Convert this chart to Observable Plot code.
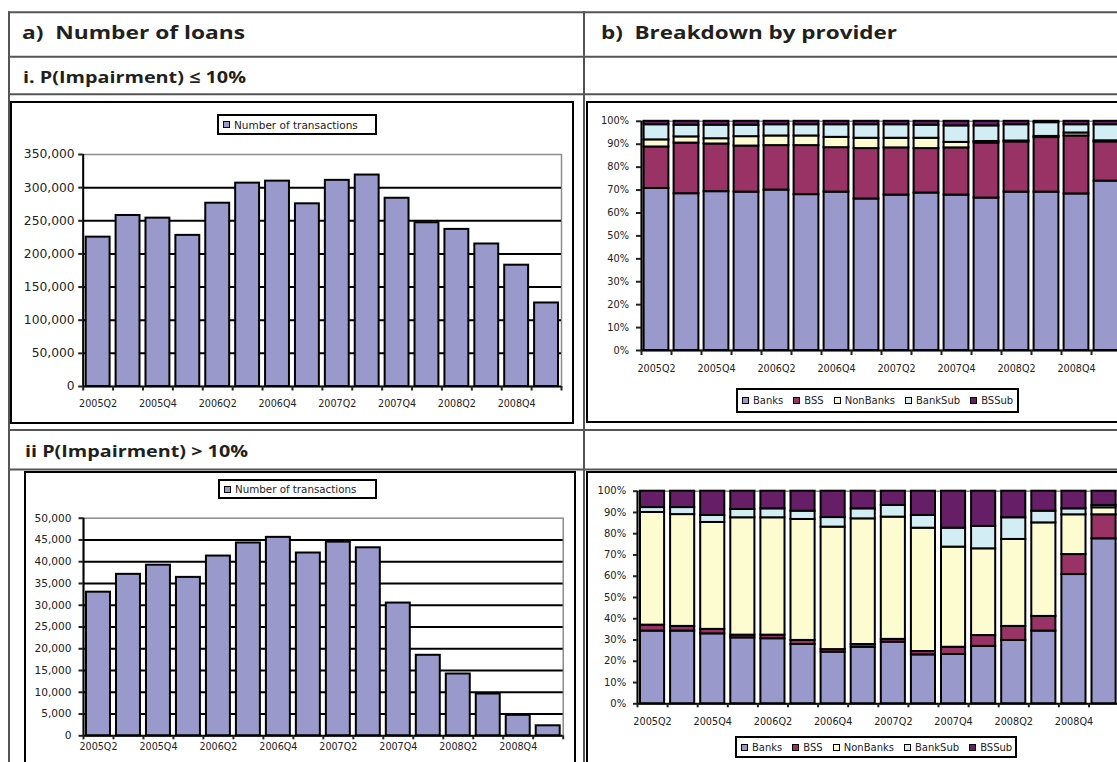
<!DOCTYPE html>
<html>
<head>
<meta charset="utf-8">
<script src="https://cdn.jsdelivr.net/npm/d3@7"></script>
<script src="https://cdn.jsdelivr.net/npm/@observablehq/plot@0.6"></script>
<style>
html, body { margin: 0; padding: 0; background: #fff; }
#page { position: relative; width: 1117px; height: 762px; overflow: hidden; background: #fff; }
.frame { position: absolute; border: 2px solid #000; box-sizing: border-box; background: #fff; overflow: hidden; }
.frame svg { position: absolute; left: 0; top: 0; max-width: none !important; }
.legend { position: absolute; box-sizing: border-box; border: 2px solid #000; background: #fff;
  font-family: "DejaVu Sans", sans-serif; color: #222; white-space: nowrap; display: flex; align-items: center; }
.legend .item { display: inline-flex; align-items: center; }
.legend .sw { display: inline-block; box-sizing: border-box; width: 7px; height: 7px; border: 1.5px solid #000; margin-right: 4px; }
</style>
</head>
<body>
<div id="page"></div>
<script>
// ---------------- data ----------------
const quarters = ["2005Q2","2005Q3","2005Q4","2006Q1","2006Q2","2006Q3","2006Q4","2007Q1",
                  "2007Q2","2007Q3","2007Q4","2008Q1","2008Q2","2008Q3","2008Q4","2009Q1"];

// a) Number of loans (number of transactions)
const loansLowPD  = [225300, 258000, 254000, 228000, 276500, 306800, 309800, 275600,
                     311000, 319000, 284000, 247000, 237000, 215000, 183000, 126000];
const loansHighPD = [33000, 37100, 39200, 36400, 41300, 44300, 45600, 42000,
                     44500, 43200, 30500, 18500, 14200, 9600, 4700, 2300];

// b) Breakdown by provider (shares, %)
const providers = ["Banks", "BSS", "NonBanks", "BankSub", "BSSub"];
const providerColors = ["#9999cc", "#993366", "#fdfbd0", "#d3edf5", "#661f66"];
const barColor = "#9999cc";

const lowBanks    = [70.7, 68.4, 69.3, 69.1, 70.0, 68.0, 69.1, 66.1, 67.8, 68.7, 67.8, 66.5, 69.1, 69.1, 68.3, 73.9];
const lowBSS      = [18.1, 22.1, 20.8, 20.1, 19.4, 21.4, 19.4, 22.0, 20.6, 19.4, 20.6, 24.0, 21.9, 23.8, 25.3, 17.1];
const lowNonBanks = [ 3.1,  2.7,  2.3,  4.1,  4.2,  4.2,  4.5,  4.5,  4.2,  4.5,  2.4,  0.7,  0.4,  0.5,  1.3,  0.5];
const lowBankSub  = [ 6.6,  5.1,  5.9,  5.0,  4.9,  4.9,  5.5,  5.9,  5.9,  5.7,  7.2,  6.8,  7.1,  6.0,  3.6,  7.0];
const lowBSSub    = [ 1.5,  1.7,  1.7,  1.7,  1.5,  1.5,  1.5,  1.5,  1.5,  1.7,  2.0,  2.0,  1.5,  0.6,  1.5,  1.5];

const highBanks    = [34.2, 34.2, 32.9, 31.0, 30.6, 27.9, 24.3, 26.6, 29.0, 23.0, 23.2, 27.0, 29.8, 34.2, 60.8, 77.6];
const highBSS      = [ 2.8,  2.2,  2.1,  1.3,  1.7,  1.9,  1.2,  1.3,  1.3,  1.6,  3.4,  5.1,  6.6,  6.9,  9.4, 11.3];
const highNonBanks = [53.0, 52.6, 50.3, 55.2, 55.2, 56.9, 57.6, 59.1, 57.5, 58.0, 47.1, 40.8, 40.9, 44.0, 18.7,  3.3];
const highBankSub  = [ 2.3,  3.3,  3.3,  3.9,  4.2,  3.9,  4.5,  4.7,  5.5,  6.0,  8.9, 10.5, 10.2,  5.5,  2.8,  1.1];
const highBSSub    = [ 7.7,  7.7, 11.4,  8.6,  8.3,  9.4, 12.4,  8.3,  6.7, 11.4, 17.4, 16.6, 12.5,  9.4,  8.3,  6.7];

const legendCount = "Number of transactions";
const headerA = "a)\u00a0 Number of loans";
const headerB = "b)\u00a0 Breakdown by provider";
const rowI = "i. P(Impairment) \u2264 10%";
const rowII = "ii P(Impairment) > 10%";

// ---------------- layout helpers ----------------
const page = document.getElementById("page");
const svgNS = "http://www.w3.org/2000/svg";

function makeFrame(left, top, width, height) {
  const f = document.createElement("div");
  f.className = "frame";
  Object.assign(f.style, {left: left + "px", top: top + "px", width: width + "px", height: height + "px"});
  page.appendChild(f);
  return f;
}

function makeLegend(frame, names, colors, o) {
  const lg = document.createElement("div");
  lg.className = "legend";
  Object.assign(lg.style, {left: o.left + "px", top: o.top + "px", width: o.width + "px", height: o.height + "px",
    paddingLeft: o.padL + "px", fontSize: o.font + "px", gap: o.gap + "px"});
  names.forEach((name, k) => {
    const it = document.createElement("span");
    it.className = "item";
    const sw = document.createElement("span");
    sw.className = "sw";
    sw.style.background = colors[k];
    it.append(sw, document.createTextNode(name));
    lg.append(it);
  });
  frame.appendChild(lg);
}

const n = quarters.length;
const boundaryTicks = d3.range(0, n + 1);
const labelTicks = d3.range(0.5, n, 2);
const quarterLabel = t => quarters[Math.floor(t)];

function countChart(frame, values, o) {
  const rows = values.map((v, i) => ({i, v}));
  const yTicks = d3.range(0, o.yMax + 1, o.yStep);
  const chart = Plot.plot({
    width: o.width, height: o.height,
    marginLeft: o.mL, marginRight: o.mR, marginTop: o.mT, marginBottom: o.mB,
    x: {domain: [0, n], label: null},
    y: {domain: [0, o.yMax], label: null},
    style: {background: "transparent", fontFamily: "DejaVu Sans, sans-serif", color: "#222", overflow: "visible"},
    marks: [
      Plot.frame({stroke: "#8c8c8c", strokeWidth: 1.5}),
      Plot.ruleY(yTicks.slice(1, -1), {stroke: "#000", strokeWidth: 2}),
      Plot.rect(rows, {x1: "i", x2: d => d.i + 1, y1: 0, y2: "v", insetLeft: o.inset, insetRight: o.inset,
        fill: barColor, stroke: "#000", strokeWidth: 2}),
      Plot.ruleX([0], {stroke: "#000", strokeWidth: 2}),
      Plot.ruleY([0], {stroke: "#000", strokeWidth: 2}),
      Plot.axisY({ticks: yTicks, tickSize: o.yTick, tickPadding: o.yPad, tickFormat: d3.format(","),
        fontSize: o.yFont, strokeWidth: 2, label: null}),
      Plot.axisX({ticks: boundaryTicks, tickSize: o.xTick, tickFormat: () => "", strokeWidth: 2, label: null}),
      Plot.axisX({ticks: labelTicks, tickSize: 0, tickPadding: o.xPad, tickFormat: quarterLabel, fontSize: o.xFont, label: null})
    ]
  });
  frame.appendChild(chart);
}

function shareChart(frame, shares, o) {
  const table = quarters.map((q, i) => {
    const r = {i};
    providers.forEach((p, k) => { r[p] = shares[k][i]; });
    return r;
  });
  const series = d3.stack().keys(providers).offset(d3.stackOffsetExpand)(table);
  const segs = series.flatMap(s => s.map(d => ({i: d.data.i, provider: s.key, lo: d[0], hi: d[1]})));
  const chart = Plot.plot({
    width: o.width, height: o.height,
    marginLeft: o.mL, marginRight: o.mR, marginTop: o.mT, marginBottom: o.mB,
    x: {domain: [0, n], label: null},
    y: {domain: [0, 1], label: null},
    color: {domain: providers, range: providerColors},
    style: {background: "transparent", fontFamily: "DejaVu Sans, sans-serif", color: "#222", overflow: "visible"},
    marks: [
      Plot.frame({stroke: "#8c8c8c", strokeWidth: 1.5}),
      Plot.rect(segs, {x1: "i", x2: d => d.i + 1, y1: "lo", y2: "hi", fill: "provider",
        insetLeft: o.inset, insetRight: o.inset, stroke: "#000", strokeWidth: 2}),
      Plot.ruleX([0], {stroke: "#000", strokeWidth: 2}),
      Plot.ruleY([0], {stroke: "#000", strokeWidth: 2}),
      Plot.axisY({ticks: d3.range(0, 1.0001, 0.1), tickSize: o.yTick, tickPadding: o.yPad,
        tickFormat: d3.format(".0%"), fontSize: o.yFont, strokeWidth: 2, label: null}),
      Plot.axisX({ticks: boundaryTicks, tickSize: o.xTick, tickFormat: () => "", strokeWidth: 2, label: null}),
      Plot.axisX({ticks: labelTicks, tickSize: 0, tickPadding: o.xPad, tickFormat: quarterLabel, fontSize: o.xFont, label: null})
    ]
  });
  frame.appendChild(chart);
}

// ---------------- charts ----------------
// a) i.
const fTL = makeFrame(10, 101, 564, 323);
countChart(fTL, loansLowPD, {width: 560, height: 319, mL: 70.7, mR: 11, mT: 51, mB: 36,
  yMax: 350000, yStep: 50000, yTick: 4.5, yPad: 4, yFont: 12.3, xTick: 4.5, xPad: 14, xFont: 9.6, inset: 3});
makeLegend(fTL, [legendCount], [barColor], {left: 205, top: 11, width: 160, height: 21, padL: 4, font: 10.5, gap: 0});

// b) i.
const fTR = makeFrame(586, 101, 600, 322);
shareChart(fTR, [lowBanks, lowBSS, lowNonBanks, lowBankSub, lowBSSub],
  {width: 560, height: 318, mL: 53, mR: 27, mT: 17.8, mB: 71, yTick: 5, yPad: 7.4, yFont: 9.8,
   xTick: 5, xPad: 14.3, xFont: 9.6, inset: 2.6});
makeLegend(fTR, providers, providerColors, {left: 148, top: 285, width: 283, height: 25, padL: 4, font: 10, gap: 10});

// a) ii.
const fBL = makeFrame(24, 471, 552, 320);
countChart(fBL, loansHighPD, {width: 548, height: 300, mL: 57, mR: 11.3, mT: 44.7, mB: 37.7,
  yMax: 50000, yStep: 5000, yTick: 4.5, yPad: 7.5, yFont: 10.6, xTick: 4, xPad: 7.3, xFont: 9.6, inset: 3});
makeLegend(fBL, [legendCount], [barColor], {left: 192, top: 6, width: 159, height: 20, padL: 4, font: 10.3, gap: 0});

// b) ii.
const fBR = makeFrame(586, 471, 600, 320);
shareChart(fBR, [highBanks, highBSS, highNonBanks, highBankSub, highBSSub],
  {width: 560, height: 300, mL: 49, mR: 29.4, mT: 17.7, mB: 69.7, yTick: 4, yPad: 7.3, yFont: 10,
   xTick: 4, xPad: 14.5, xFont: 9.7, inset: 3});
makeLegend(fBR, providers, providerColors, {left: 147, top: 263, width: 282, height: 22, padL: 4, font: 10, gap: 10});

// ---------------- table grid & headers ----------------
const ov = document.createElementNS(svgNS, "svg");
ov.setAttribute("width", 1117); ov.setAttribute("height", 762);
ov.style.cssText = "position:absolute;left:0;top:0;pointer-events:none;overflow:hidden";
page.appendChild(ov);

function line(x1, y1, x2, y2) {
  const l = document.createElementNS(svgNS, "line");
  l.setAttribute("x1", x1); l.setAttribute("y1", y1); l.setAttribute("x2", x2); l.setAttribute("y2", y2);
  l.setAttribute("stroke", "#555"); l.setAttribute("stroke-width", 2);
  ov.appendChild(l);
}
[12.3, 56.7, 94.3, 430, 469.5].forEach(y => line(8, y, 1117, y));
line(9, 11.3, 9, 762);
line(584, 11.3, 584, 762);

function header(text, x, y, len, size) {
  const t = document.createElementNS(svgNS, "text");
  t.setAttribute("x", x); t.setAttribute("y", y);
  t.setAttribute("textLength", len); t.setAttribute("lengthAdjust", "spacingAndGlyphs");
  t.setAttribute("font-family", "Open Sans, sans-serif"); t.setAttribute("font-weight", 700);
  t.setAttribute("font-size", size); t.setAttribute("fill", "#231f20");
  t.textContent = text;
  ov.appendChild(t);
}
header(headerA, 22, 39, 223, 18);
header(headerB, 601, 39, 296, 18);
header(rowI, 23, 83.3, 223, 16.5);
header(rowII, 25, 457.3, 223, 16.5);
</script>
</body>
</html>
